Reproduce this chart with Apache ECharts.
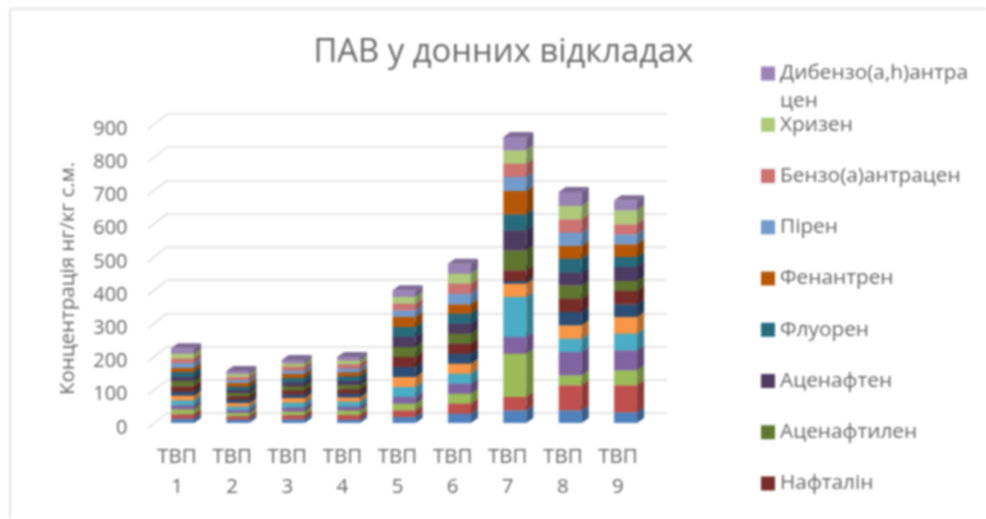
<!DOCTYPE html>
<html><head><meta charset="utf-8">
<style>html,body{margin:0;padding:0;background:#fff}#c{width:986px;height:519px;filter:blur(0.8px)}</style>
<script src="https://cdn.jsdelivr.net/npm/echarts@6/dist/echarts.min.js"></script>
</head><body><div id="c"></div>
<script>
const categories = ['ТВП\n1','ТВП\n2','ТВП\n3','ТВП\n4','ТВП\n5','ТВП\n6','ТВП\n7','ТВП\n8','ТВП\n9'];
const yTicks = [0,100,200,300,400,500,600,700,800,900];
const s01 = [13,10,11,10,18,28,38,38,32];
const s02 = [13,10,12,14,20,30,40,75,81];
const s03 = [15,10,12,14,20,30,130,30,45];
const s04 = [12,9,12,11,20,30,50,70,60];
const s05 = [15,10,14,15,30,30,120,40,50];
const s06 = [14,11,14,13,30,30,40,40,50];
const s07 = [12,10,11,11,30,30,8,40,38];
const naphthalene = [16,10,12,13,30,30,32,40,40];
const acenaphthylene = [16,10,12,13,30,30,60,40,30];
const acenaphthene = [12,9,12,12,30,30,60,38,42];
const fluorene = [15,10,13,14,30,30,48,42,30];
const phenanthrene = [12,11,12,12,30,28,70,38,38];
const pyrene = [15,9,11,12,20,32,42,40,30];
const benzAnthracene = [13,9,11,12,20,30,40,40,30];
const chrysene = [15,9,10,12,20,30,40,40,42];
const dibenzAnthracene = [16,9,10,10,20,30,40,42,30];
const stacks = [
  ['Ряд 1',s01,'#4f81bd'],['Ряд 2',s02,'#c0504d'],['Ряд 3',s03,'#9bbb59'],['Ряд 4',s04,'#8064a2'],
  ['Ряд 5',s05,'#4bacc6'],['Ряд 6',s06,'#f79646'],['Ряд 7',s07,'#2c4d75'],
  ['Нафталін',naphthalene,'#772c2a'],['Аценафтилен',acenaphthylene,'#5f7530'],['Аценафтен',acenaphthene,'#4d3b62'],
  ['Флуорен',fluorene,'#276a7c'],['Фенантрен',phenanthrene,'#b65708'],['Пірен',pyrene,'#729aca'],
  ['Бензо(а)антрацен',benzAnthracene,'#cd7371'],['Хризен',chrysene,'#afc97a'],['Дибензо(a,h)антрацен',dibenzAnthracene,'#9983b5']
];
const legendOrder = ['Дибензо(a,h)антрацен','Хризен','Бензо(а)антрацен','Пірен','Фенантрен','Флуорен','Аценафтен','Аценафтилен','Нафталін'];
const FONT = '"Open Sans"';
const TEXT = '#666666';

function shade(hex,k){
  const n=parseInt(hex.slice(1),16);
  return 'rgb('+[(n>>16)&255,(n>>8)&255,n&255].map(v=>Math.round(v*k)).join(',')+')';
}
const running = categories.map(()=>0);
const barSeries = stacks.map(([name,vals,color])=>{
  const data = vals.map((v,i)=>{const b=running[i];running[i]+=v;return [i,b,b+v];});
  return {
    name,type:'custom',xAxisIndex:1,yAxisIndex:1,itemStyle:{color},data,
    encode:{x:0,y:[1,2]},
    renderItem(params,api){
      const i=api.value(0);
      const p0=api.coord([i,api.value(1)]),p1=api.coord([i,api.value(2)]);
      const w=api.size([1,0])[0]*0.415,dx=7,dy=5;
      const l=p0[0]-w/2,r=p0[0]+w/2,b=p0[1],t=p1[1];
      return {type:'group',children:[
        {type:'rect',shape:{x:l,y:t,width:w,height:b-t},style:{fill:color}},
        {type:'polygon',shape:{points:[[r,b],[r+dx,b-dy],[r+dx,t-dy],[r,t]]},style:{fill:shade(color,0.72)}},
        {type:'polygon',shape:{points:[[l,t],[l+dx,t-dy],[r+dx,t-dy],[r,t]]},style:{fill:shade(color,0.82)}}
      ]};
    }
  };
});
const diagonals = {
  type:'custom',xAxisIndex:2,yAxisIndex:2,silent:true,z:1,data:yTicks.map(v=>[0,v]),
  encode:{x:0,y:1},
  renderItem(params,api){
    const p=api.coord([0,api.value(1)]);
    const x=params.coordSys.x-1.5;
    return {type:'line',shape:{x1:x,y1:p[1],x2:x+19,y2:p[1]-15},style:{stroke:'#dcdcdc',lineWidth:1.5}};
  }
};
const chart = echarts.init(document.getElementById('c'),null,{renderer:'canvas'});
chart.setOption({
  animation:false,backgroundColor:'#fff',
  textStyle:{fontFamily:FONT},
  title:{text:'ПАВ у донних відкладах',left:498.5,top:31,textAlign:'center',
    textStyle:{fontFamily:FONT,fontSize:32.8,fontWeight:'normal',color:'#6a6a6a'}},
  legend:{orient:'vertical',left:761,top:63,padding:0,itemWidth:14,itemHeight:14,itemGap:30.25,
    data:legendOrder.map(name=>({name,icon:'rect'})),
    formatter:n=>n==='Дибензо(a,h)антрацен'?'Дибензо(a,h)антра':n,
    textStyle:{fontFamily:FONT,fontSize:20.8,color:TEXT,lineHeight:18},selectedMode:false},
  grid:[
    {left:167,top:114,width:500,height:299},
    {left:154.8,top:123,width:498.5,height:300},
    {left:149.5,top:129,width:496,height:299}
  ],
  xAxis:[
    {gridIndex:0,type:'category',data:categories,show:false},
    {gridIndex:1,type:'category',data:categories,show:false},
    {gridIndex:2,type:'category',data:categories,axisLine:{show:false},axisTick:{show:false},
      axisLabel:{interval:0,margin:14,fontFamily:FONT,fontSize:20.5,lineHeight:30,color:TEXT}}
  ],
  yAxis:[
    {gridIndex:0,type:'value',min:0,max:900,interval:100,axisLine:{show:false},axisTick:{show:false},axisLabel:{show:false},
      splitLine:{show:true,lineStyle:{color:'#dcdcdc',width:1.5}}},
    {gridIndex:1,type:'value',min:0,max:900,interval:100,show:false,splitLine:{show:false}},
    {gridIndex:2,type:'value',min:0,max:900,interval:100,axisLine:{show:false},axisTick:{show:false},splitLine:{show:false},
      axisLabel:{margin:22,fontFamily:FONT,fontSize:20,color:TEXT},
      name:'Концентрація нг/кг с.м.',nameLocation:'middle',nameGap:71,nameRotate:90,
      nameTextStyle:{fontFamily:FONT,fontSize:20.5,color:TEXT}}
  ],
  series:[diagonals].concat(barSeries),
  graphic:[
    {type:'line',silent:true,shape:{x1:10,y1:9,x2:986,y2:9},style:{stroke:'#e2e2e2',lineWidth:2}},
    {type:'line',silent:true,shape:{x1:10,y1:9,x2:10,y2:519},style:{stroke:'#e2e2e2',lineWidth:2}},
    {type:'text',silent:true,left:780,top:91,style:{text:'цен',fontFamily:FONT,fontSize:20.8,fill:TEXT}}
  ]
});
</script></body></html>
